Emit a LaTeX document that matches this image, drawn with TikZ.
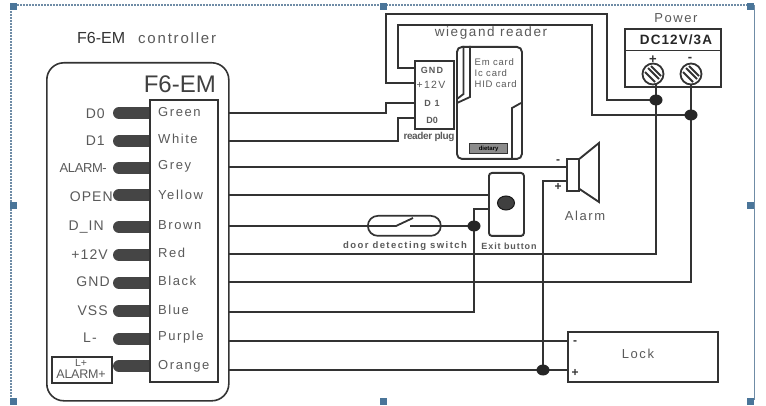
\documentclass[tikz,border=0pt]{standalone}
\usepackage{fontspec}
\setmainfont{Liberation Sans}
\newfontfamily\spc[LetterSpace=12]{Liberation Sans}
\newfontfamily\spb[LetterSpace=8]{Liberation Sans}
\usetikzlibrary{shapes.geometric}
\definecolor{wirec}{HTML}{333333}
\definecolor{txtc}{HTML}{5A5A5A}
\definecolor{pinc}{HTML}{454545}
\definecolor{handlec}{HTML}{4A7599}
\definecolor{framec}{HTML}{6F8CA6}
\tikzset{
  wire/.style={draw=wirec,line width=1.8pt,line join=miter},
  boxline/.style={draw=wirec,line width=1.9pt,fill=white},
  pinbar/.style={draw=pinc,line width=12pt,line cap=round},
  lbl/.style={inner sep=0pt,text=txtc,font=\fontsize{14}{14}\selectfont\spb},
  collbl/.style={inner sep=0pt,text=txtc,anchor=west,font=\fontsize{13}{13}\selectfont\spc},
  small/.style={inner sep=0pt,text=txtc,font=\fontsize{9}{10}\selectfont\spc},
  junction/.style={ellipse,fill=black!85,inner sep=0pt,minimum width=13pt,minimum height=11pt},
  handle/.style={fill=handlec,draw=none,minimum size=7pt,inner sep=0pt,rectangle},
  sign/.style={inner sep=0pt,text=black!80,font=\fontsize{12}{12}\selectfont\bfseries},
  screw/.style={circle,draw=wirec,line width=1.8pt,fill=white,minimum size=21pt,inner sep=0pt},
}
\begin{document}
\begin{tikzpicture}[x=1pt,y=-1pt]
\useasboundingbox (0,0) rectangle (766,406);
\fill[white] (0,0) rectangle (766,406);
% frame
\draw[framec,line width=1.6pt,dash pattern=on 2pt off 1pt] (11,5) -- (752,5);
\draw[framec,line width=1.6pt,dash pattern=on 2pt off 1pt] (11,5) -- (11,400);
\draw[framec,line width=1pt] (754,5) -- (754,400);
\foreach \hn/\hx/\hy in {ha/13/7,hb/383/7,hc/750/7,hd/13/206,he/750/206,hf/13/401,hg/383/401,hh/750/401}
  \node[handle] (\hn) at (\hx,\hy) {};
\node[inner sep=0pt,text=black!80,font=\fontsize{16}{16}\selectfont,anchor=west] (title1) at (77,38) {F6-EM};
\node[inner sep=0pt,text=txtc,font=\fontsize{15}{15}\selectfont\spc,anchor=west] (title2) at (138,38.5) {controller};
% controller
\node[boxline,rounded corners=17pt,minimum width=182pt,minimum height=338pt,anchor=north west,line width=1.6pt] (ctrl) at (46,62) {};
\node[inner sep=0pt,text=black!75,font=\fontsize{24}{24}\selectfont,anchor=east] (ctitle) at (216,84) {F6-EM};
% pins
\foreach \py in {113,141,168,195,227,255,283,311,339,366}
  \draw[pinbar] (119,\py) -- (150,\py);
\node[boxline,minimum width=68pt,minimum height=282pt,anchor=north west] (inner) at (149,99) {};
\foreach \nm/\cn/\ty in {green/Green/112,white/White/139,grey/Grey/166,yellow/Yellow/195,brown/Brown/225,red/Red/253,black/Black/281,blue/Blue/310,purple/Purple/337,orange/Orange/366}
  \node[collbl] (t\nm) at (158,\ty) {\cn};
% left labels
\node[lbl,anchor=east] (l0) at (105,114) {D0};
\node[lbl,anchor=east] (l1) at (105,141) {D1};
\node[lbl,anchor=east,font=\fontsize{13}{13}\selectfont] (l2) at (107,168) {\addfontfeature{LetterSpace=-3}ALARM-};
\node[lbl,anchor=east] (l3) at (113,197) {OPEN};
\node[lbl,anchor=east] (l4) at (104,227) {D\_IN};
\node[lbl,anchor=east] (l5) at (108,255) {+12V};
\node[lbl,anchor=east] (l6) at (110,282) {GND};
\node[lbl,anchor=east] (l7) at (108,311) {VSS};
\node[lbl,anchor=east] (l8) at (97,338) {L-};
\node[draw=wirec,line width=1.5pt,minimum width=60pt,minimum height=26pt,anchor=north west,inner sep=0pt] (lbox) at (51,356) {};
\node[inner sep=0pt,text=txtc,font=\fontsize{10.5}{10.5}\selectfont] (lboxa) at (81,362.5) {L+};
\node[inner sep=0pt,text=txtc,font=\fontsize{12.5}{12.5}\selectfont\addfontfeature{LetterSpace=-2}] (lboxb) at (81,374.5) {ALARM+};
% connector start points
\foreach \nm/\wy in {cg/113,cw/141,cy/167,cb/195,cn/226,cr/254,ck/282,cu/312,cp/341,co/370}
  \coordinate (\nm) at (228,\wy);
% plug
\node[boxline,minimum width=39pt,minimum height=68pt,anchor=north west] (plug) at (414,60) {};
\coordinate (pgnd) at (414,68);
\coordinate (p12) at (414,83);
\coordinate (pd1) at (414,103);
\coordinate (pd0) at (414,118);
\node[small,font=\fontsize{9}{9}\selectfont\bfseries\spc] (plgnd) at (432,70) {GND};
\node[lbl,font=\fontsize{10.5}{10}\selectfont\spc] (pl12) at (431,85) {+12V};
\node[small,font=\fontsize{9}{9}\selectfont\bfseries\spc] (pld1) at (432,103) {D 1};
\node[small,font=\fontsize{9}{9}\selectfont\bfseries] (pld0) at (432,120) {D0};
\node[inner sep=0pt,text=txtc,font=\fontsize{10}{10}\selectfont\bfseries\addfontfeature{LetterSpace=-4}] (plugl) at (429,137) {reader plug};
\node[inner sep=0pt,text=txtc,font=\fontsize{13.5}{13}\selectfont\spc] (wr) at (491,33) {wiegand reader};
% card
\node[boxline,rounded corners=5pt,minimum width=65pt,minimum height=112pt,anchor=north west] (card) at (456,46) {};
\draw[wire] (463.5,46) -- (463.5,94) -- (457,99);
\draw[wire] (470,46) -- (470,97) -- (457,103);
\draw[wire] (521,103) -- (512,108) -- (512,158);
\node[draw=wirec,fill=black!45,line width=1.2pt,minimum width=38pt,minimum height=10pt,inner sep=0pt,anchor=north west] (badge) at (469,143) {};
\node[inner sep=0pt,text=black,font=\fontsize{6}{6}\selectfont\bfseries] (badget) at (badge.center) {dietary};
\node[small,anchor=west,font=\fontsize{9.5}{9}\selectfont\addfontfeature{LetterSpace=8}] (c1) at (474.5,62.5) {Em card};
\node[small,anchor=west,font=\fontsize{9.5}{9}\selectfont\addfontfeature{LetterSpace=8}] (c2) at (474.5,73.5) {Ic card};
\node[small,anchor=west,font=\fontsize{9.5}{9}\selectfont\addfontfeature{LetterSpace=8}] (c3) at (474.5,84.5) {HID card};
% power
\node[inner sep=0pt,text=txtc,font=\fontsize{13}{13}\selectfont\spc] (pw) at (676,18) {Power};
\node[boxline,minimum width=96pt,minimum height=58pt,anchor=north west] (power) at (624,28) {};
\draw[wire,line width=1.2pt] (624,50.5) -- (720,50.5);
\node[inner sep=0pt,text=black!85,font=\fontsize{13.5}{13}\selectfont\bfseries\spb] (dc) at (676,40) {DC12V/3A};
\node[sign,font=\fontsize{13}{13}\selectfont\bfseries] (pplus) at (653,59.5) {+};
\node[sign,font=\fontsize{13}{13}\selectfont\bfseries] (pminus) at (690,59.5) {-};
\coordinate (vplus) at (656,100);
\coordinate (vminus) at (691,115);
% wires to power and plug
\draw[wire] (p12) -| (386,14) -| (607,100) -- (vplus);
\draw[wire] (pgnd) -| (398,25) -| (592,115) -- (vminus);
\draw[wire] (cg) -| (386,103) -- (pd1);
\draw[wire] (cw) -| (398,118) -- (pd0);
\node[screw] (s1) at (653,74) {};
\node[screw] (s2) at (691,74) {};
\foreach \sn in {s1,s2} {
  \draw[wirec,line width=1.8pt] (\sn)+(-5,-6) -- +(6,5);
  \draw[wirec,line width=1.8pt] (\sn)+(-8,-2) -- +(2,8);
  \draw[wirec,line width=1.8pt] (\sn)+(-2,-8) -- +(8,2);
}
\draw[wire] (656,84) -- (vplus) |- (cr);
\draw[wire] (691,84) -- (vminus) |- (ck);
\node[junction] (dp) at (vplus) {};
\node[junction] (dm) at (vminus) {};
% speaker
\draw[boxline] (578,160) -- (599,143) -- (599,202) -- (578,188) -- cycle;
\node[boxline,minimum width=12pt,minimum height=32pt,anchor=north west] (spk) at (566,158) {};
\node[sign] (sminus) at (558,162) {-};
\node[sign] (splus) at (558,187) {+};
\node[lbl,font=\fontsize{13}{13}\selectfont\spc] (alarm) at (585,216) {Alarm};
\draw[wire] (cy) -- (spk.west |- cy);
% exit button
\node[boxline,rounded corners=3pt,minimum width=35pt,minimum height=63pt,anchor=north west] (exit) at (488,172) {};
\node[ellipse,fill=black!75,draw=black!90,line width=1pt,minimum width=17pt,minimum height=14pt,inner sep=0pt] (ebtn) at (506,203) {};
\draw[wire] (cb) -- (exit.west |- cb);
\coordinate (ej) at (474,226);
\coordinate (et) at (488,209);
% lock
\node[boxline,minimum width=150pt,minimum height=50pt,anchor=north west] (lock) at (567,331) {};
\node[inner sep=0pt,text=txtc,font=\fontsize{13}{13}\selectfont\spc] (lockt) at (638,354) {Lock};
\node[sign] (lminus) at (575,343) {-};
\node[sign] (lplus) at (575,373) {+};
% switch
\node[draw=wirec,line width=1.7pt,rounded corners=10pt,minimum width=73pt,minimum height=20pt,inner sep=0pt,anchor=north west] (sw) at (367,215) {};
\coordinate (swa) at (396,226);
\coordinate (swb) at (410,226);
\coordinate (swc) at (413,218);
\draw[wire] (cn) -- (swa) -- (swc);
\draw[wire] (swb) -- (ej);
\draw[wire] (et) -| (ej) |- (cu);
\node[junction] (dj) at (ej) {};
\node[small,font=\fontsize{9.5}{9}\selectfont\bfseries\addfontfeature{LetterSpace=15}] (swl) at (405,246) {door detecting switch};
\node[small,font=\fontsize{9}{9}\selectfont\bfseries\addfontfeature{LetterSpace=10}] (exl) at (509,246) {Exit button};
% lock and alarm feed
\coordinate (lj) at (543,370);
\draw[wire] (cp) -- (lock.west |- cp);
\draw[wire] (co) -- (lock.west |- co);
\draw[wire] (spk.west |- 0,181) -| (lj);
\node[junction] (dl) at (lj) {};
\end{tikzpicture}
\end{document}
